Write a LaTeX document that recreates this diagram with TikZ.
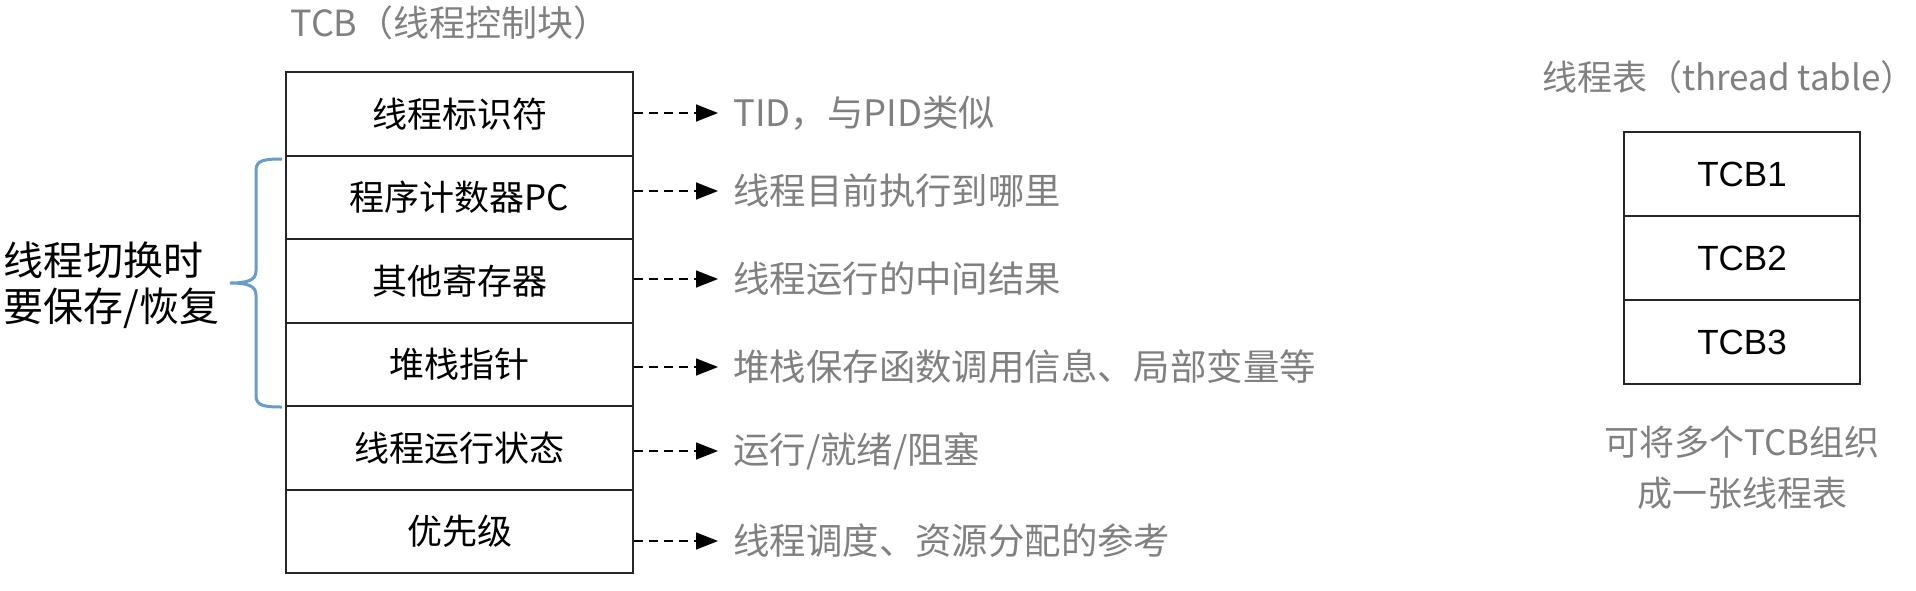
\documentclass[tikz,border=0pt]{standalone}
\usepackage{fontspec}
\setmainfont{Noto Sans CJK SC}
\newfontfamily\tcbfont{Liberation Sans}
\usetikzlibrary{arrows.meta,positioning}
\definecolor{notegray}{RGB}{128,128,128}
\definecolor{braceblue}{RGB}{103,156,204}
\tikzset{
	field/.style={draw=black!85, line width=1pt, minimum width=173.5pt, minimum height=41.75pt, inner sep=0pt, font=\fontsize{17.5}{20}\selectfont},
	entry/.style={field, minimum width=118pt, minimum height=42pt, font=\tcbfont\fontsize{17.5}{20}\selectfont},
	note/.style={anchor=west, inner sep=0pt, text=notegray, font=\fontsize{18.2}{20}\selectfont},
	dasharrow/.style={dash pattern=on 4.5pt off 3pt, line width=0.75pt, -{Triangle[length=11pt,width=8.5pt]}, shorten >=7.5pt},
}

\begin{document}
\begin{tikzpicture}[x=0.5pt, y=-0.5pt]
			%%%%% START %%%%%
			\useasboundingbox (0, 0) rectangle (1916, 590);
			
			% TCB
			\node[text=notegray, font=\fontsize{18}{20}\selectfont] (tcbtitle) at (450, 23) {TCB（线程控制块）};
			
			\node[field] (tid) at (459.5, 114) {线程标识符};
			\node[field] (pc) at (459.5, 197.5) {程序计数器PC};
			\node[field] (regs) at (459.5, 281) {其他寄存器};
			\node[field] (sp) at (459.5, 364.5) {堆栈指针};
			\node[field] (state) at (459.5, 448) {线程运行状态};
			\node[field] (prio) at (459.5, 531.5) {优先级};
			
			% notes
			\node[note] (tidnote) at (733, 113) {TID，与PID类似};
			\node[note] (pcnote) at (733, 191) {线程目前执行到哪里};
			\node[note] (regsnote) at (733, 279) {线程运行的中间结果};
			\node[note] (spnote) at (733, 367) {堆栈保存函数调用信息、局部变量等};
			\node[note] (statenote) at (733, 451) {运行/就绪/阻塞};
			\node[note] (prionote) at (733, 541) {线程调度、资源分配的参考};
			
			\draw[dasharrow] (tid.east |- tidnote.west) -- (tidnote.west);
			\draw[dasharrow] (pc.east |- pcnote.west) -- (pcnote.west);
			\draw[dasharrow] (regs.east |- regsnote.west) -- (regsnote.west);
			\draw[dasharrow] (sp.east |- spnote.west) -- (spnote.west);
			\draw[dasharrow] (state.east |- statenote.west) -- (statenote.west);
			\draw[dasharrow] (prio.east |- prionote.west) -- (prionote.west);
			
			% brace
			\draw[braceblue, line width=1.5pt] (282, 159) .. controls (265, 159) and (256, 160) .. (256, 170) -- (256, 271) .. controls (256, 280) and (248, 283) .. (230, 283) .. controls (248, 283) and (256, 286) .. (256, 295) -- (256, 396) .. controls (256, 406) and (265, 407) .. (282, 407);
			\node[anchor=west, align=left, inner sep=0pt, font=\fontsize{20}{23}\selectfont] (switchnote) at (3, 285) {线程切换时\\要保存/恢复};
			
			% thread table
			\node[text=notegray, font=\fontsize{17.5}{20}\selectfont] (tabletitle) at (1729, 77) {线程表（thread table）};
			\node[entry] (tcb1) at (1742, 174) {TCB1};
			\node[entry] (tcb2) at (1742, 258) {TCB2};
			\node[entry] (tcb3) at (1742, 342) {TCB3};
			\node[align=center, text=notegray, font=\fontsize{17.5}{25.5}\selectfont] (tablenote) at (1742, 468) {可将多个TCB组织\\成一张线程表};
			
			%%%%% END %%%%%
\end{tikzpicture}
\end{document}
